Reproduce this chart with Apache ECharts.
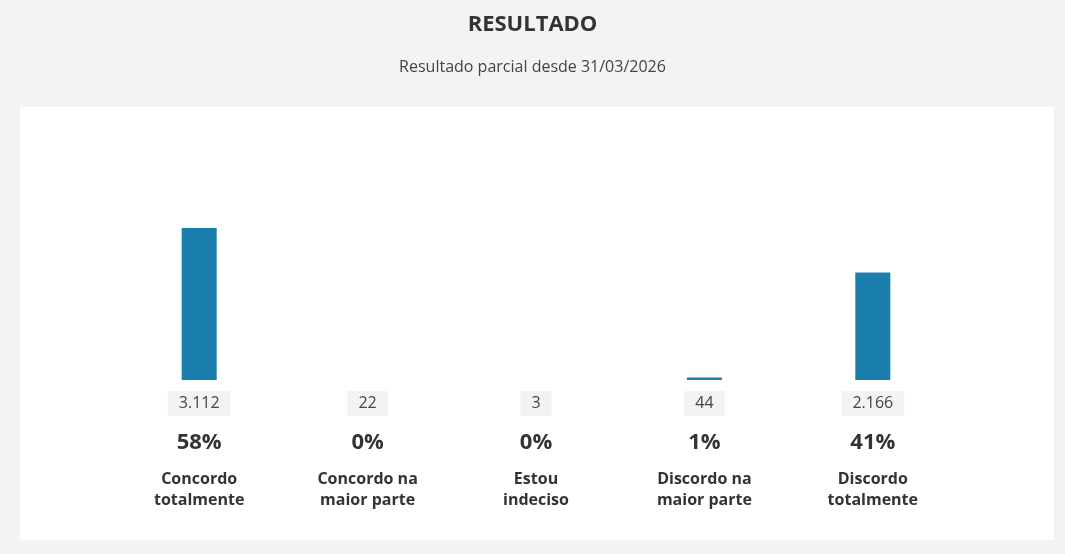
<!DOCTYPE html>
<html>
<head>
<meta charset="utf-8">
<script src="https://cdn.jsdelivr.net/npm/echarts@6/dist/echarts.min.js"></script>
<style>
  html, body { margin: 0; padding: 0; background: #f3f3f3; }
  #chart { width: 1065px; height: 554px; }
</style>
</head>
<body>
<div id="chart"></div>
<script>
const categories = ["Concordo\ntotalmente", "Concordo na\nmaior parte", "Estou\nindeciso", "Discordo na\nmaior parte", "Discordo\ntotalmente"];
const votes = [3112, 22, 3, 44, 2166];
const percents = [58, 0, 0, 1, 41];

const fmt = n => n.toLocaleString("pt-BR");

const chart = echarts.init(document.getElementById("chart"));
chart.setOption({
  backgroundColor: "#f3f3f3",
  textStyle: { fontFamily: "Open Sans" },
  title: [
    {
      text: "RESULTADO",
      left: "center",
      top: 9,
      textStyle: { fontFamily: "Open Sans", fontSize: 22, fontWeight: "bold", color: "#333" }
    },
    {
      text: "Resultado parcial desde 31/03/2026",
      left: "center",
      top: 54,
      textStyle: { fontFamily: "Open Sans", fontSize: 16, fontWeight: "normal", color: "#444" }
    }
  ],
  graphic: [
    {
      type: "rect",
      left: 20,
      top: 107,
      shape: { width: 1034, height: 433 },
      style: { fill: "#fff" },
      z: -10
    }
  ],
  grid: { left: 115, right: 108, top: 118, bottom: 174 },
  xAxis: {
    type: "category",
    data: categories,
    axisLine: { show: false },
    axisTick: { show: false },
    axisLabel: {
      interval: 0,
      margin: 11,
      formatter: (v, i) => {
        const lines = v.split("\n").map(s => `{c|${s}}`).join("\n");
        return `{n|${fmt(votes[i])}}\n{p|${percents[i]}%}\n${lines}`;
      },
      rich: {
        n: {
          fontSize: 16, color: "#444", backgroundColor: "#f3f3f3",
          padding: [0, 11], height: 25, lineHeight: 25
        },
        p: { fontSize: 22, fontWeight: "bold", color: "#333", lineHeight: 53 },
        c: { fontSize: 16, fontWeight: "bold", color: "#333", lineHeight: 21 }
      }
    }
  },
  yAxis: {
    type: "value",
    min: 0,
    max: 100,
    show: false,
    splitLine: { show: false }
  },
  series: [
    {
      type: "bar",
      data: percents,
      barWidth: 35,
      itemStyle: { color: "#1b7fad" }
    }
  ]
});
</script>
</body>
</html>
